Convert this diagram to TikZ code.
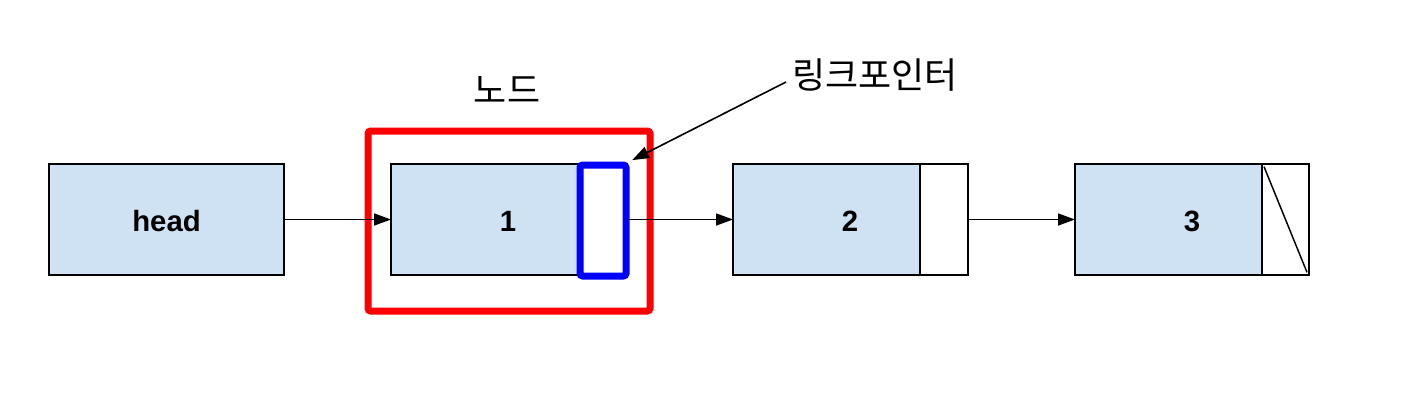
\documentclass[tikz,border=0pt]{standalone}
\usepackage{fontspec}
\setmainfont{Liberation Sans}
\newfontfamily\krfont{Noto Sans CJK KR}
\usetikzlibrary{arrows.meta}
\definecolor{cellblue}{HTML}{CFE2F3}
\tikzset{
  cell/.style={draw=black, line width=1.1pt, inner sep=0pt, outer sep=0pt, minimum height=83.25pt},
  datacell/.style={cell, fill=cellblue},
  ptrcell/.style={cell, fill=white},
  lbl/.style={font=\bfseries\fontsize{22}{25}\selectfont, inner sep=0pt},
  krlbl/.style={font=\krfont\fontsize{27}{30}\selectfont, inner sep=0pt},
  link/.style={line width=1.2pt, -{Triangle[length=12.75pt,width=9pt]}},
}
\begin{document}
\begin{tikzpicture}[x=0.75pt,y=-0.75pt]
\useasboundingbox (0,0) rectangle (1418,400);
% head
\node[datacell, minimum width=176.25pt] (head) at (166.5,219.5) {};
\node[lbl] (headlbl) at (166.5,221) {head};
% node 1
\node[datacell, minimum width=140.25pt] (d1) at (484.5,219.5) {};
\node[ptrcell, minimum width=36.75pt] (p1) at (602.5,219.5) {};
\node[lbl] (l1) at (508,221) {1};
% node 2
\node[datacell, minimum width=140.25pt] (d2) at (826.5,219.5) {};
\node[ptrcell, minimum width=36pt] (p2) at (944,219.5) {};
\node[lbl] (l2) at (850,221) {2};
% node 3
\node[datacell, minimum width=140.25pt] (d3) at (1168.5,219.5) {};
\node[ptrcell, minimum width=35.25pt] (p3) at (1285.5,219.5) {};
\node[lbl] (l3) at (1192,221) {3};
\draw[line width=1.1pt] ([xshift=1.5pt,yshift=-2pt]p3.north west) -- ([xshift=-1.5pt,yshift=2pt]p3.south east);
% highlight boxes
\node[draw=blue, line width=5.25pt, rounded corners=2pt, inner sep=0pt, minimum width=34.5pt, minimum height=83.25pt] (ptrbox) at (603,220.5) {};
\node[draw=red, line width=5.25pt, rounded corners=2pt, inner sep=0pt, minimum width=211.5pt, minimum height=135pt] (nodebox) at (509,221) {};
% connectors
\draw[link] (head.east) -- (d1.west);
\draw[link] (p1.east) -- (d2.west);
\draw[link] (p2.east) -- (d3.west);
% labels
\node[krlbl] (nodelbl) at (507,90) {노드};
\node[krlbl] (linklbl) at (875,75) {링크포인터};
\coordinate (linkstart) at (786,82);
\draw[link] (linkstart) -- ([xshift=2pt,yshift=1pt]ptrbox.north east);
\end{tikzpicture}
\end{document}
